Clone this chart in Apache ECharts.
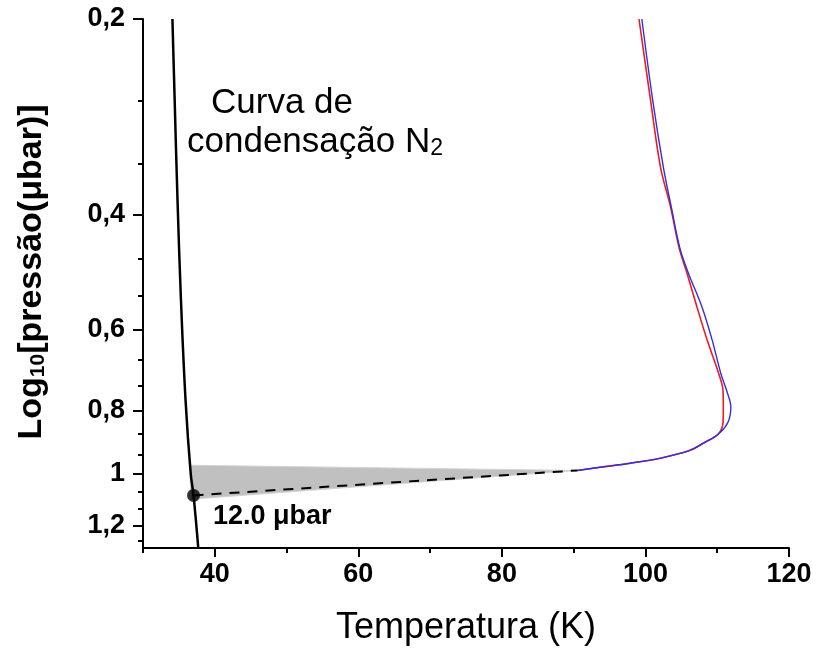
<!DOCTYPE html>
<html>
<head>
<meta charset="utf-8">
<script src="https://cdn.jsdelivr.net/npm/echarts@6/dist/echarts.min.js"></script>
<style>
  html, body { margin: 0; padding: 0; background: #fff; }
  #chart { width: 816px; height: 653px; }
</style>
</head>
<body>
<div id="chart"></div>
<script>
// Temperature (K) and Log10[pressure(μbar)] samples for each curve.
// The vertical axis is drawn on a logarithmic scale of the plotted value.

// N2 condensation curve
const condT = [34.10, 34.41, 34.81, 35.29, 35.93, 36.65, 37.04, 37.70];
const condV = [0.200, 0.266, 0.380, 0.541, 0.771, 1.0, 1.079, 1.30];

// Temperature profile (red)
const redT = [99.1, 100.7, 102.1, 103.5, 104.7, 105.8, 107.2, 108.6, 110.2, 110.8, 110.85, 110.8, 110.1, 108.3, 106.2, 102.1, 97.9, 93.7, 90.5];
const redV = [0.200, 0.266, 0.338, 0.389, 0.450, 0.492, 0.555, 0.623, 0.701, 0.744, 0.790, 0.835, 0.870, 0.894, 0.920, 0.946, 0.963, 0.977, 0.988];

// Temperature profile (blue)
const blueT = [99.5, 101.0, 102.5, 103.6, 104.8, 106.0, 107.9, 109.3, 110.5, 111.3, 111.9, 111.5, 110.3, 108.3, 106.2, 102.1, 97.9, 93.7, 90.5];
const blueV = [0.200, 0.266, 0.338, 0.389, 0.450, 0.492, 0.555, 0.623, 0.701, 0.744, 0.790, 0.833, 0.866, 0.894, 0.920, 0.946, 0.963, 0.977, 0.988];

// Uncertainty wedge (shaded triangle)
const bandT = [36.6, 36.6, 90.5];
const bandV = [0.970, 1.094, 0.988];

// Extrapolation to the condensation curve: 12.0 μbar
const dotPressure = 12.0;
const dashT = [37.04, 90.5];
const dashV = [Math.log10(dotPressure), 0.988];

// Axis ticks
const xMajorTicks = [40, 60, 80, 100, 120];
const xMinorTicks = [30, 50, 70, 90, 110];
const yMajorTicks = [0.2, 0.4, 0.6, 0.8, 1.0, 1.2];
const yMinorTicks = [0.2667, 0.3333, 0.4667, 0.5333, 0.6667, 0.7333, 0.8667, 0.9333, 1.0667, 1.1333, 1.2667];
const xRange = [30, 120];
const yRange = [0.2, 1.3];

const L = v => Math.log10(v);
const pairs = (ts, vs) => ts.map((t, i) => [t, L(vs[i])]);

const FONT = 'Liberation Sans, Arial, sans-serif';
const labelFont = { fontFamily: FONT, fontWeight: 'bold', fontSize: 27, color: '#000' };

const chart = echarts.init(document.getElementById('chart'), null, { renderer: 'canvas' });

chart.setOption({
  animation: false,
  backgroundColor: '#fff',
  grid: { left: 143, right: 27, top: 19, bottom: 105, containLabel: false },
  xAxis: [
    {
      type: 'value', min: xRange[0], max: xRange[1], position: 'bottom',
      axisLine: { onZero: false, lineStyle: { color: '#000', width: 2 } },
      axisTick: { customValues: xMajorTicks, length: 9, lineStyle: { color: '#000', width: 2 } },
      axisLabel: Object.assign({ customValues: xMajorTicks, margin: 13 }, labelFont),
      splitLine: { show: false },
      name: 'Temperatura (K)', nameLocation: 'middle', nameGap: 62,
      nameTextStyle: { fontFamily: FONT, fontSize: 36, color: '#000' }
    },
    {
      type: 'value', min: xRange[0], max: xRange[1], position: 'bottom',
      axisLine: { show: false, onZero: false },
      axisTick: { customValues: xMinorTicks, length: 5, lineStyle: { color: '#000', width: 2 } },
      axisLabel: { show: false },
      splitLine: { show: false }
    }
  ],
  yAxis: [
    {
      type: 'value', min: L(yRange[0]), max: L(yRange[1]), inverse: true, position: 'left',
      axisLine: { onZero: false, lineStyle: { color: '#000', width: 2 } },
      axisTick: { customValues: yMajorTicks.map(L), length: 10, lineStyle: { color: '#000', width: 2 } },
      axisLabel: Object.assign({
        customValues: yMajorTicks.map(L), margin: 18,
        formatter: v => String(Math.round(Math.pow(10, v) * 10) / 10).replace('.', ',')
      }, labelFont),
      splitLine: { show: false }
    },
    {
      type: 'value', min: L(yRange[0]), max: L(yRange[1]), inverse: true, position: 'left',
      axisLine: { show: false, onZero: false },
      axisTick: { customValues: yMinorTicks.map(L), length: 5, lineStyle: { color: '#000', width: 2 } },
      axisLabel: { show: false },
      splitLine: { show: false }
    }
  ],
  series: [
    {
      type: 'custom', name: 'band', xAxisIndex: 0, yAxisIndex: 0, z: 1,
      data: [[bandT[0], L(bandV[0])]],
      renderItem: (params, api) => ({
        type: 'polygon',
        shape: { points: bandT.map((t, i) => api.coord([t, L(bandV[i])])) },
        style: { fill: '#c0c0c0', stroke: '#d4d4d4', lineWidth: 1 }
      })
    },
    {
      type: 'line', name: 'N2', data: pairs(condT, condV), smooth: 0.4,
      symbol: 'none', z: 4, lineStyle: { color: '#000', width: 2.5 }
    },
    {
      type: 'line', name: 'red', data: pairs(redT, redV), smooth: 0.35,
      symbol: 'none', z: 3, lineStyle: { color: '#ee1c1c', width: 1.6 }
    },
    {
      type: 'line', name: 'blue', data: pairs(blueT, blueV), smooth: 0.35,
      symbol: 'none', z: 3, lineStyle: { color: '#2f2fe8', width: 1.4 }
    },
    {
      type: 'line', name: 'extrap', data: pairs(dashT, dashV),
      symbol: 'none', z: 5, lineStyle: { color: '#000', width: 2, type: [10, 8] }
    },
    {
      type: 'scatter', name: 'dot', data: [[dashT[0], L(dashV[0])]],
      symbol: 'circle', symbolSize: 13, z: 6, itemStyle: { color: '#000' }
    }
  ],
  graphic: [
    {
      type: 'text', left: 211, top: 86, z: 10,
      style: { text: 'Curva de', font: '35px "Liberation Sans", Arial, sans-serif', fill: '#000' }
    },
    {
      type: 'text', left: 187, top: 125, z: 10,
      style: {
        text: '{a|condensação N}{s|2}',
        rich: {
          a: { fontFamily: FONT, fontSize: 35, lineHeight: 42, fill: '#000', verticalAlign: 'bottom' },
          s: { fontFamily: FONT, fontSize: 23, lineHeight: 36, fill: '#000', verticalAlign: 'bottom' }
        }
      }
    },
    {
      type: 'text', left: 213, top: 503, z: 10,
      style: { text: '12.0 μbar', font: 'bold 27px "Liberation Sans", Arial, sans-serif', fill: '#000' }
    },
    {
      type: 'text', x: 28, y: 272, rotation: Math.PI / 2, z: 10,
      style: {
        text: '{a|Log}{s|10}{a|[pressão(μbar)]}',
        align: 'center', verticalAlign: 'middle',
        rich: {
          a: { fontFamily: FONT, fontWeight: 'bold', fontSize: 34, lineHeight: 42, fill: '#000', verticalAlign: 'bottom' },
          s: { fontFamily: FONT, fontWeight: 'bold', fontSize: 21, lineHeight: 32, fill: '#000', verticalAlign: 'bottom' }
        }
      }
    }
  ]
});
</script>
</body>
</html>
